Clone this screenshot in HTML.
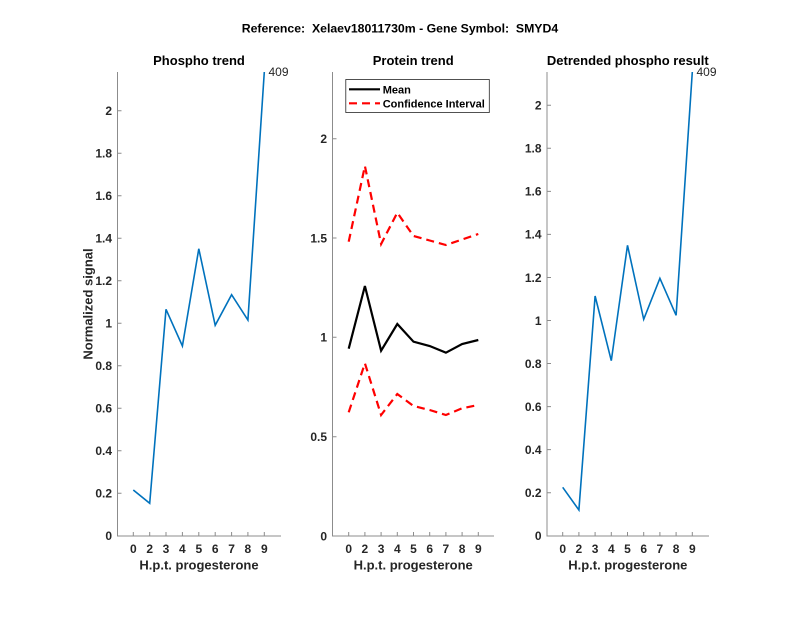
<!DOCTYPE html>
<html>
<head>
<meta charset="utf-8">
<style>
html,body{margin:0;padding:0;background:#fff;}
svg{display:block;}
text{font-family:"Liberation Sans",Arial,sans-serif;fill:#262626;}
.tk{font-size:12px;font-weight:bold;}
.ti{font-size:13px;font-weight:bold;fill:#000;}
.lb{font-size:13px;font-weight:bold;}
.ax{stroke:#8c8c8c;stroke-width:1;fill:none;}
</style>
</head>
<body>
<svg width="800" height="618" viewBox="0 0 800 618" xmlns="http://www.w3.org/2000/svg">
<rect x="0" y="0" width="800" height="618" fill="#fff"/>
<text x="241.7" y="32.3" class="ti" textLength="316.5" lengthAdjust="spacing" xml:space="preserve" style="white-space:pre;font-size:12.3px">Reference:  Xelaev18011730m - Gene Symbol:  SMYD4</text>

<!-- LEFT PANEL -->
<g>
<text x="199" y="65" text-anchor="middle" class="ti">Phospho trend</text>
<path class="ax" d="M117.5,72 V536 H281"/>
<g class="ax">
<path d="M117.5,493.2h4M117.5,450.7h4M117.5,408.2h4M117.5,365.7h4M117.5,323.2h4M117.5,280.7h4M117.5,238.2h4M117.5,195.7h4M117.5,153.2h4M117.5,110.7h4"/>
<path d="M133.3,536v-4M149.7,536v-4M166,536v-4M182.4,536v-4M198.8,536v-4M215.2,536v-4M231.6,536v-4M247.9,536v-4M264.3,536v-4"/>
</g>
<g class="tk" text-anchor="end">
<text x="112" y="540">0</text>
<text x="112" y="497.5">0.2</text>
<text x="112" y="455">0.4</text>
<text x="112" y="412.5">0.6</text>
<text x="112" y="370">0.8</text>
<text x="112" y="327.5">1</text>
<text x="112" y="285">1.2</text>
<text x="112" y="242.5">1.4</text>
<text x="112" y="200">1.6</text>
<text x="112" y="157.5">1.8</text>
<text x="112" y="115">2</text>
</g>
<g class="tk" text-anchor="middle">
<text x="133.3" y="553">0</text>
<text x="149.7" y="553">2</text>
<text x="166" y="553">3</text>
<text x="182.4" y="553">4</text>
<text x="198.8" y="553">5</text>
<text x="215.2" y="553">6</text>
<text x="231.6" y="553">7</text>
<text x="247.9" y="553">8</text>
<text x="264.3" y="553">9</text>
</g>
<text x="199" y="569.5" text-anchor="middle" class="lb">H.p.t. progesterone</text>
<text transform="translate(92.5,304) rotate(-90)" text-anchor="middle" class="lb">Normalized signal</text>
<polyline fill="none" stroke="#0072BD" stroke-width="1.6" stroke-linejoin="miter" points="133.3,490 149.7,503.3 166,309.3 182.4,346 198.8,248.8 215.2,325.3 231.6,294.7 247.9,320 264.3,72"/>
<text x="268.5" y="76" style="font-size:12px">409</text>
</g>

<!-- MIDDLE PANEL -->
<g>
<text x="413.2" y="65" text-anchor="middle" class="ti">Protein trend</text>
<path class="ax" d="M332.5,72 V536 H494"/>
<g class="ax">
<path d="M332.5,436.7h4M332.5,337.3h4M332.5,238h4M332.5,138.7h4"/>
<path d="M348.7,536v-4M364.9,536v-4M381.1,536v-4M397.3,536v-4M413.5,536v-4M429.7,536v-4M445.9,536v-4M462.1,536v-4M478.3,536v-4"/>
</g>
<g class="tk" text-anchor="end">
<text x="327" y="540.3">0</text>
<text x="327" y="441">0.5</text>
<text x="327" y="341.6">1</text>
<text x="327" y="242.3">1.5</text>
<text x="327" y="143">2</text>
</g>
<g class="tk" text-anchor="middle">
<text x="348.7" y="553">0</text>
<text x="364.9" y="553">2</text>
<text x="381.1" y="553">3</text>
<text x="397.3" y="553">4</text>
<text x="413.5" y="553">5</text>
<text x="429.7" y="553">6</text>
<text x="445.9" y="553">7</text>
<text x="462.1" y="553">8</text>
<text x="478.3" y="553">9</text>
</g>
<text x="413.2" y="569.5" text-anchor="middle" class="lb">H.p.t. progesterone</text>
<polyline fill="none" stroke="#000" stroke-width="2.2" points="348.7,348.7 364.9,286 381.1,350.7 397.3,324 413.5,341.7 429.7,346 445.9,352.7 462.1,344 478.3,340"/>
<polyline fill="none" stroke="#ff0000" stroke-width="2.2" stroke-dasharray="8,5" points="348.7,241.7 364.9,166 381.1,244 397.3,212.7 413.5,236 429.7,240.5 445.9,245 462.1,239.5 478.3,234"/>
<polyline fill="none" stroke="#ff0000" stroke-width="2.2" stroke-dasharray="8,5" points="348.7,412.3 364.9,363.3 381.1,415 397.3,394 413.5,406 429.7,410 445.9,415 462.1,408.3 478.3,405"/>
<!-- legend -->
<rect x="345.8" y="79.5" width="143.5" height="33" fill="#fff" stroke="#262626" stroke-width="0.8"/>
<line x1="349" y1="89.3" x2="380" y2="89.3" stroke="#000" stroke-width="2.2"/>
<line x1="349" y1="103.3" x2="380" y2="103.3" stroke="#ff0000" stroke-width="2.2" stroke-dasharray="8,5"/>
<text x="382.7" y="93.3" style="font-size:11px;font-weight:bold;fill:#000">Mean</text>
<text x="382.7" y="107.3" style="font-size:11px;font-weight:bold;fill:#000">Confidence Interval</text>
</g>

<!-- RIGHT PANEL -->
<g>
<text x="627.8" y="65" text-anchor="middle" class="ti">Detrended phospho result</text>
<path class="ax" d="M547,72 V536 H709"/>
<g class="ax">
<path d="M547,492.7h4M547,449.6h4M547,406.6h4M547,363.5h4M547,320.5h4M547,277.5h4M547,234.4h4M547,191.4h4M547,148.3h4M547,105.3h4"/>
<path d="M562.7,536v-4M578.9,536v-4M595.1,536v-4M611.3,536v-4M627.5,536v-4M643.7,536v-4M659.9,536v-4M676.1,536v-4M692.3,536v-4"/>
</g>
<g class="tk" text-anchor="end">
<text x="541.5" y="540">0</text>
<text x="541.5" y="497">0.2</text>
<text x="541.5" y="453.9">0.4</text>
<text x="541.5" y="410.9">0.6</text>
<text x="541.5" y="367.8">0.8</text>
<text x="541.5" y="324.8">1</text>
<text x="541.5" y="281.8">1.2</text>
<text x="541.5" y="238.7">1.4</text>
<text x="541.5" y="195.7">1.6</text>
<text x="541.5" y="152.6">1.8</text>
<text x="541.5" y="109.6">2</text>
</g>
<g class="tk" text-anchor="middle">
<text x="562.7" y="553">0</text>
<text x="578.9" y="553">2</text>
<text x="595.1" y="553">3</text>
<text x="611.3" y="553">4</text>
<text x="627.5" y="553">5</text>
<text x="643.7" y="553">6</text>
<text x="659.9" y="553">7</text>
<text x="676.1" y="553">8</text>
<text x="692.3" y="553">9</text>
</g>
<text x="627.8" y="569.5" text-anchor="middle" class="lb">H.p.t. progesterone</text>
<polyline fill="none" stroke="#0072BD" stroke-width="1.6" points="562.7,487.3 578.9,510 595.1,296 611.3,360.7 627.5,245.3 643.7,319.3 659.9,278.3 676.1,315.3 692.3,72"/>
<text x="696.5" y="76" style="font-size:12px">409</text>
</g>
</svg>
</body>
</html>
